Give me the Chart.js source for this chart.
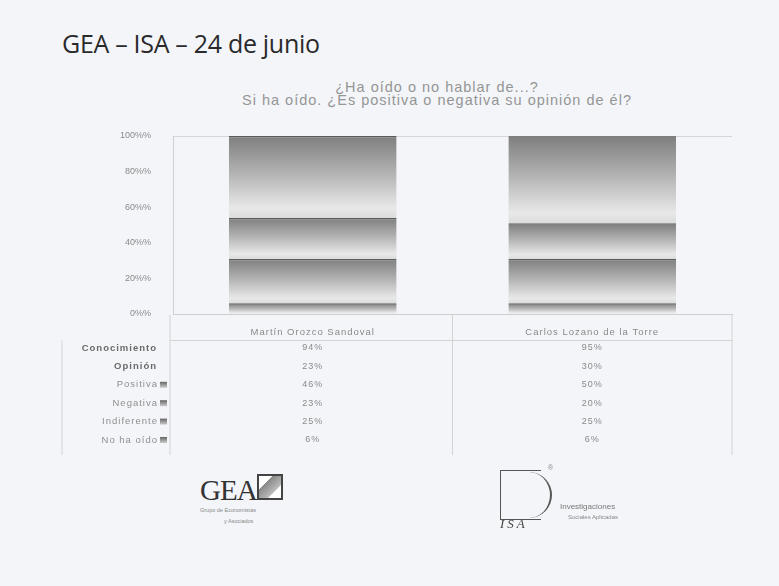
<!DOCTYPE html>
<html>
<head>
<meta charset="utf-8">
<script src="https://cdn.jsdelivr.net/npm/chart.js@4.4.0/dist/chart.umd.min.js"></script>
<style>
  body { margin: 0; background: #f3f5f9; width: 779px; height: 586px; overflow: hidden; position: relative; font-family: "Liberation Sans", Arial, sans-serif; }
  #title { position: absolute; left: 62px; top: 26px; font-family: "Open Sans", sans-serif; font-size: 25px; color: #2a2a2a; letter-spacing: -0.3px; }
  #sub { position: absolute; left: 0; width: 874px; top: 81px; text-align: center; font-size: 14.5px; letter-spacing: 1px; color: #959595; line-height: 13px; }
  #wrap { position: absolute; left: 0; top: 0; width: 779px; height: 470px; }
  .gea { position: absolute; left: 200px; top: 474px; font-family: "Liberation Serif", serif; font-size: 29px; color: #333; letter-spacing: -1px; }
  .gea-icon { position: absolute; left: 257px; top: 474px; width: 22px; height: 22px; border: 2px solid #444; background: linear-gradient(135deg, #fff 30%, #888 31%, #bbb 70%, #fff 71%); }
  .small { position: absolute; font-size: 5.5px; color: #888; }
  .isa-box { position: absolute; left: 500px; top: 470px; width: 40px; height: 48px; border: 1px solid #555; border-right: none; }
  .isa-arc { position: absolute; left: 510px; top: 472px; width: 40px; height: 46px; border-right: 2px solid #555; border-radius: 0 30px 30px 0; }
  .isa-txt { position: absolute; left: 500px; top: 516px; font-style: italic; font-size: 13px; color: #444; letter-spacing: 3px; font-family: "Liberation Serif", serif; }
</style>
</head>
<body>
<div id="title">GEA – ISA – 24 de junio</div>
<div id="sub">¿Ha oído o no hablar de...?<br>Si ha oído. ¿Es positiva o negativa su opinión de él?</div>
<div id="wrap"><canvas id="c"></canvas></div>

<div class="gea">GEA</div>
<div class="gea-icon"></div>
<div class="small" style="left:200px;top:507px;">Grupo de Economistas</div>
<div class="small" style="left:224px;top:518px;">y Asociados</div>
<div class="isa-box"></div>
<div class="isa-arc"></div>
<div class="isa-txt">ISA</div>
<div class="small" style="left:548px;top:464px;font-size:7px;">®</div>
<div class="small" style="left:560px;top:502px;font-size:8px;color:#777;">Investigaciones</div>
<div class="small" style="left:568px;top:514px;font-size:6px;">Sociales Aplicadas</div>

<script>
const categories = ["Martín Orozco Sandoval", "Carlos Lozano de la Torre"];
const conocimiento = [94, 95];
const opinion = [23, 30];
const positiva = [46, 50];
const negativa = [23, 20];
const indiferente = [25, 25];
const noHaOido = [6, 6];
const yTickValues = [0, 20, 40, 60, 80, 100];

// table rows, top to bottom (label, values, bold, legend key)
const tableRows = [
  ["Conocimiento", conocimiento, true, false],
  ["Opinión", opinion, true, false],
  ["Positiva", positiva, false, true],
  ["Negativa", negativa, false, true],
  ["Indiferente", indiferente, false, true],
  ["No ha oído", noHaOido, false, true],
];

function segFill(ctx) {
  const chart = ctx.chart;
  const y = chart.scales.y;
  if (ctx.type !== "data" || !y) return "#aaaaaa";
  let base = 0;
  for (let k = 0; k < ctx.datasetIndex; k++) {
    base += chart.data.datasets[k].data[ctx.dataIndex];
  }
  const val = chart.data.datasets[ctx.datasetIndex].data[ctx.dataIndex];
  const top = y.getPixelForValue(Math.min(100, base + val));
  const bot = y.getPixelForValue(base);
  if (!isFinite(top) || !isFinite(bot) || top === bot) return "#aaaaaa";
  const g = chart.ctx.createLinearGradient(0, top, 0, bot);
  g.addColorStop(0, "#7e7e7e");
  g.addColorStop(0.45, "#b2b2b2");
  g.addColorStop(0.88, "#e8e8e8");
  g.addColorStop(1, "#dcdcdc");
  return g;
}

// draws the data table under the plot
const dataTable = {
  id: "dataTable",
  afterDraw(chart) {
    const { ctx, chartArea } = chart;
    const x = chart.scales.x;
    const left = chartArea.left - 3;
    const right = chartArea.right;
    const mid = (x.getPixelForValue(0) + x.getPixelForValue(1)) / 2;
    const bottom = 455;
    ctx.save();
    ctx.strokeStyle = "#d3d3d3";
    ctx.lineWidth = 1;
    ctx.beginPath();
    ctx.moveTo(left, chartArea.bottom + 1); ctx.lineTo(left, bottom);
    ctx.moveTo(mid, chartArea.bottom + 1); ctx.lineTo(mid, bottom);
    ctx.moveTo(right, chartArea.bottom + 1); ctx.lineTo(right, bottom);
    ctx.moveTo(left, 340.5); ctx.lineTo(right, 340.5);
    ctx.moveTo(62, 340.5); ctx.lineTo(62, bottom);
    ctx.stroke();

    ctx.textBaseline = "middle";
    ctx.textAlign = "center";
    ctx.letterSpacing = "1px";
    ctx.font = "9.5px 'Liberation Sans', Arial";
    ctx.fillStyle = "#8a8a8a";
    categories.forEach((c, i) => ctx.fillText(c, x.getPixelForValue(i), 332));

    tableRows.forEach((row, r) => {
      const yy = 348 + r * 18.4;
      ctx.textAlign = "right";
      ctx.font = (row[2] ? "bold " : "") + "9.5px 'Liberation Sans', Arial";
      ctx.fillStyle = row[2] ? "#6a6a6a" : "#8f8f8f";
      const lx = row[3] ? 158 : 157;
      ctx.fillText(row[0], lx, yy);
      if (row[3]) {
        const g = ctx.createLinearGradient(0, yy - 3, 0, yy + 3);
        g.addColorStop(0, "#666");
        g.addColorStop(1, "#ccc");
        ctx.fillStyle = g;
        ctx.fillRect(160, yy - 3, 7, 6);
      }
      ctx.textAlign = "center";
      ctx.font = "9px 'Liberation Sans', Arial";
      ctx.fillStyle = "#8a8a8a";
      row[1].forEach((v, i) => ctx.fillText(v + "%", x.getPixelForValue(i), yy));
    });
    ctx.restore();
  },
};

new Chart(document.getElementById("c"), {
  type: "bar",
  data: {
    labels: categories,
    datasets: [
      { label: "No ha oído", data: noHaOido },
      { label: "Indiferente", data: indiferente },
      { label: "Negativa", data: negativa },
      { label: "Positiva", data: positiva },
    ].map((d) => ({
      ...d,
      backgroundColor: segFill,
      borderColor: "#5a5a5a",
      borderWidth: { top: 1.5, left: 0, right: 0, bottom: 0 },
      borderSkipped: false,
      categoryPercentage: 0.6,
      barPercentage: 1,
    })),
  },
  options: {
    responsive: true,
    maintainAspectRatio: false,
    animation: false,
    layout: { padding: { left: 100, right: 47, top: 136, bottom: 156 } },
    plugins: { legend: { display: false }, tooltip: { enabled: false } },
    scales: {
      x: {
        stacked: true,
        ticks: { display: false },
        grid: { display: false },
        border: { color: "#cfcfcf" },
        afterFit: (s) => { s.height = 0; },
      },
      y: {
        stacked: true,
        min: 0,
        max: 100,
        afterBuildTicks: (s) => { s.ticks = yTickValues.map((v) => ({ value: v })); },
        afterFit: (s) => { s.width = 73; },
        ticks: {
          padding: 22,
          color: "#8a8a8a",
          font: { size: 9, family: "'Liberation Sans', Arial" },
          callback: (v) => v + "%%",
        },
        grid: {
          drawTicks: false,
          color: (c) => (c.tick && c.tick.value === 100 ? "#d6d6d6" : "rgba(0,0,0,0)"),
        },
        border: { color: "#d0d0d0" },
      },
    },
  },
  plugins: [dataTable],
});
</script>
</body>
</html>
